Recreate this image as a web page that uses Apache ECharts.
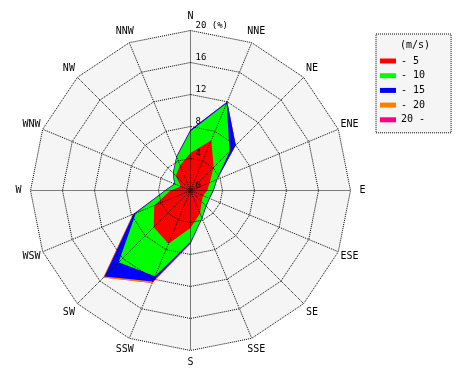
<!DOCTYPE html>
<html><head><meta charset="utf-8">
<script src="https://cdn.jsdelivr.net/npm/echarts@6/dist/echarts.min.js"></script>
<style>html,body{margin:0;padding:0;background:#fff}#c{width:470px;height:380px}</style>
</head><body><div id="c"></div>
<script>
// Directions in clockwise order starting from North
const directions = ['N','NNE','NE','ENE','E','ESE','SE','SSE','S','SSW','SW','WSW','W','WNW','NW','NNW'];
const speedClasses = ['- 5','- 10','- 15','- 20','20 -'];
const classColors = ['#ff0000','#00ff00','#0000ff','#ff8000','#ff0080'];
// cumulative frequency (%) up to each wind-speed class
const cumTo5  = [4.7, 6.8, 4.1, 2.6, 2.1, 1.7, 2.0, 3.1, 4.7, 7.2, 6.5, 4.9, 2.5, 1.3, 2.6, 3.4];
const cumTo10 = [7.4,11.8, 6.9, 3.5, 2.8, 2.5, 2.7, 3.7, 6.4,11.6,12.7, 7.4, 3.1, 2.1, 3.0, 4.5];
const cumTo15 = [7.6,12.0, 8.0, 3.6, 2.9, 2.6, 2.8, 3.8, 6.6,12.3,15.2, 7.7, 3.2, 2.2, 3.1, 4.6];
const cumTo20 = [7.6,12.0, 8.0, 3.6, 2.9, 2.6, 2.8, 3.8, 6.7,12.5,15.4, 7.8, 3.2, 2.2, 3.1, 4.6];
const cumAll  = [7.6,12.0, 8.0, 3.6, 2.9, 2.6, 2.8, 3.8, 6.7,12.5,15.4, 7.8, 3.2, 2.2, 3.1, 4.6];
const radialMax = 20;
const radialStep = 4;

const cumSeries = [cumTo5, cumTo10, cumTo15, cumTo20, cumAll];
// ECharts radar places indicators counter-clockwise; reorder so they run clockwise
const order = [0];
for (let i = directions.length - 1; i > 0; i--) order.push(i);
const indicators = order.map(i => ({ name: directions[i], min: 0, max: radialMax }));
const reorder = arr => order.map(i => arr[i]);

const FONT = 'DejaVu Sans Mono';
const dotted = { color: '#000', width: 1, type: [1, 1] };

const baseRadar = {
  center: [190.5, 190.5], radius: 160, shape: 'polygon',
  splitNumber: radialMax / radialStep, startAngle: 90,
  indicator: indicators
};

const series = [];
for (let k = speedClasses.length - 1; k >= 0; k--) {
  series.push({
    type: 'radar', radarIndex: 0, name: speedClasses[k],
    symbol: 'none', silent: true,
    lineStyle: { width: 0, color: classColors[k] },
    itemStyle: { color: classColors[k] },
    areaStyle: { color: classColors[k], opacity: 1 },
    data: [{ value: reorder(cumSeries[k]), name: speedClasses[k] }]
  });
}

const indicatorsTop = indicators.map((ind, j) => j === 0 ? Object.assign({}, ind, {
  axisLabel: {
    show: true, color: '#000', fontFamily: FONT, fontSize: 9,
    align: 'left', verticalAlign: 'bottom', margin: -5,
    formatter: v => (v === radialMax ? v + ' (%)' : String(v))
  }
}) : ind);

const option = {
  animation: false,
  backgroundColor: '#fff',
  title: {
    text: '(m/s)', left: 400, top: 40, padding: 0,
    textStyle: { fontFamily: FONT, fontSize: 10, fontWeight: 'normal', color: '#000' }
  },
  legend: {
    orient: 'vertical', left: 376, top: 34,
    data: speedClasses,
    icon: 'rect', itemWidth: 16, itemHeight: 5, itemGap: 4.7,
    padding: [22, 26, 8, 4],
    backgroundColor: '#f5f5f5',
    borderColor: '#000', borderWidth: 1, borderType: [1, 1],
    textStyle: { fontFamily: FONT, fontSize: 10, color: '#000' },
    selectedMode: false
  },
  radar: [
    Object.assign({}, baseRadar, {
      z: 0,
      axisName: { show: false },
      axisLine: { show: false },
      splitLine: { show: false },
      splitArea: { show: true, areaStyle: { color: ['#f5f5f5'] } },
      axisLabel: { show: false }
    }),
    Object.assign({}, baseRadar, {
      z: 10,
      indicator: indicatorsTop,
      nameGap: 12,
      axisName: { show: true, color: '#000', fontFamily: FONT, fontSize: 10, align: 'center', verticalAlign: 'middle' },
      axisLine: { show: true, lineStyle: { color: '#000', width: 1, type: [1, 1], cap: 'butt' } },
      splitLine: { show: true, lineStyle: dotted },
      splitArea: { show: false },
      axisTick: { show: false },
      axisLabel: { show: false }
    })
  ],
  series: series
};

echarts.init(document.getElementById('c'), null, { renderer: 'canvas' }).setOption(option);
</script>
</body></html>
